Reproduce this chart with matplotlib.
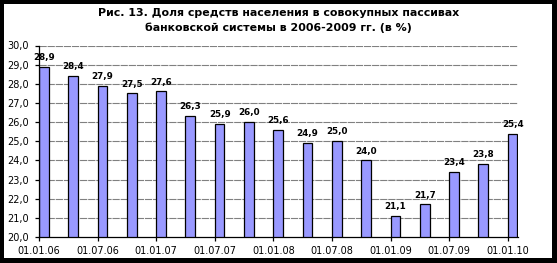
import matplotlib
matplotlib.use("Agg")
import matplotlib.pyplot as plt
from matplotlib.patches import Rectangle

# quarterly dates, only every second one gets a label on the axis
dates = ["01.01.06", "01.04.06", "01.07.06", "01.10.06",
         "01.01.07", "01.04.07", "01.07.07", "01.10.07",
         "01.01.08", "01.04.08", "01.07.08", "01.10.08",
         "01.01.09", "01.04.09", "01.07.09", "01.10.09", "01.01.10"]
share = [28.9, 28.4, 27.9, 27.5, 27.6, 26.3, 25.9, 26.0,
         25.6, 24.9, 25.0, 24.0, 21.1, 21.7, 23.4, 23.8, 25.4]
y_ticks = [20, 21, 22, 23, 24, 25, 26, 27, 28, 29, 30]
title = ("Рис. 13. Доля средств населения в совокупных пассивах\n"
         "банковской системы в 2006-2009 гг. (в %)")

plt.rcParams["font.family"] = ["DejaVu Sans"]

W, H = 557, 263
fig = plt.figure(figsize=(W / 100, H / 100), dpi=100, facecolor="black")
# white card inside the black frame
fig.patches.append(Rectangle((4 / W, 5 / H), 548 / W, 254 / H,
                             transform=fig.transFigure, facecolor="white",
                             edgecolor="none", zorder=-5))

ax = fig.add_axes([39 / W, 26 / H, 479 / W, 191.5 / H])
ax.set_facecolor("none")

xs = list(range(len(share)))
ax.bar(xs, share, width=0.33, align="edge", color="#9999FF",
       edgecolor="black", linewidth=0.9, zorder=3)
for x, v in zip(xs, share):
    ax.annotate(f"{v:.1f}".replace(".", ","), (x + 0.165, v),
                xytext=(0, 3.5), textcoords="offset points",
                ha="center", va="bottom", fontsize=6.3, fontweight="bold",
                zorder=4)

ax.set_ylim(20, 30)
ax.set_xlim(0, 16.35)
ax.set_yticks(y_ticks)
ax.set_yticklabels([f"{t:.1f}".replace(".", ",") for t in y_ticks], fontsize=7)
ax.set_xticks(xs[::2])
ax.set_xticklabels(dates[::2], fontsize=7)

for t in y_ticks[1:]:
    ax.axhline(t, color="#808080", linewidth=0.8, dashes=(6.5, 0.8), zorder=1)

for s in ["top", "right"]:
    ax.spines[s].set_visible(False)
for s in ["left", "bottom"]:
    ax.spines[s].set_linewidth(0.9)
    ax.spines[s].set_zorder(5)
ax.tick_params(axis="y", length=3, width=0.9, pad=4)
ax.tick_params(axis="x", length=3, width=0.9, pad=3.5)

fig.text(0.5, 1 - 20.5 / H, title, ha="center", va="center", fontsize=7.9,
         fontweight="bold", linespacing=1.45)

fig.savefig("out.png", dpi=100, facecolor="black")
